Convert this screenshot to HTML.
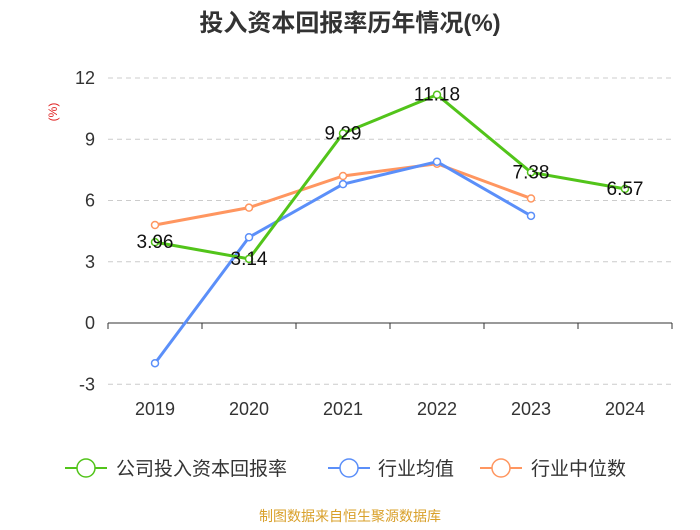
<!DOCTYPE html>
<html><head><meta charset="utf-8"><style>
body{margin:0;background:#fff;width:700px;height:525px;overflow:hidden;font-family:"Liberation Sans","Noto Sans CJK SC",sans-serif;}
</style></head><body>
<svg id="c" width="700" height="525" xmlns="http://www.w3.org/2000/svg">
<text x="350" y="31" text-anchor="middle" font-size="24" font-weight="bold" fill="#333">投入资本回报率历年情况(%)</text>
<text x="57" y="112" text-anchor="middle" font-size="12" fill="#e02020" transform="rotate(-90 57 112)">(%)</text>
<g id="grid"></g><g id="series"></g>
<g font-size="19" fill="#333">
<g><line x1="65" y1="468" x2="107" y2="468" stroke="#52c41a" stroke-width="2"/><circle cx="86" cy="468" r="9" fill="#fff" stroke="#52c41a" stroke-width="1.5"/><text x="116" y="475">公司投入资本回报率</text></g>
<g><line x1="328" y1="468" x2="370" y2="468" stroke="#5b8ff9" stroke-width="2"/><circle cx="349" cy="468" r="9" fill="#fff" stroke="#5b8ff9" stroke-width="1.5"/><text x="378" y="475">行业均值</text></g>
<g><line x1="480" y1="468" x2="522" y2="468" stroke="#ff9660" stroke-width="2"/><circle cx="501" cy="468" r="9" fill="#fff" stroke="#ff9660" stroke-width="1.5"/><text x="531" y="475">行业中位数</text></g>
</g>
<text x="350" y="521" text-anchor="middle" font-size="14" fill="#d9a02a">制图数据来自恒生聚源数据库</text>
</svg>
<script>
const categories=["2019","2020","2021","2022","2023","2024"];
const companyVals=[3.96,3.14,9.29,11.18,7.38,6.57];
const avgVals=[-1.97,4.2,6.8,7.9,5.25,null];
const medianVals=[4.8,5.65,7.2,7.8,6.1,null];
const yTicks=[-3,0,3,6,9,12];
const NS="http://www.w3.org/2000/svg";
const X=i=>155+i*94, Y=v=>323-v*(245/12);
function mk(t,a,p){const e=document.createElementNS(NS,t);for(const k in a)e.setAttribute(k,a[k]);p.appendChild(e);return e;}
const g=document.getElementById('grid'), s=document.getElementById('series');
yTicks.forEach(v=>{
 if(v!==0){const l=mk('line',{x1:108,x2:672,y1:Y(v),y2:Y(v),stroke:'#ccc','stroke-dasharray':'5,4'},g);
 
 }
 const t=mk('text',{x:95,y:Y(v)+6,'text-anchor':'end','font-size':18,fill:'#333'},g);t.textContent=v;
 
 
});
const ax=mk('line',{x1:108,x2:672,y1:Y(0),y2:Y(0),stroke:'#333','stroke-width':1},g);


categories.forEach((c,i)=>{
 const tk=mk('line',{x1:X(i)+47,x2:X(i)+47,y1:Y(0),y2:Y(0)+6,stroke:'#333'},g);
 
 
 const t=mk('text',{x:X(i),y:415,'text-anchor':'middle','font-size':18,fill:'#333'},g);t.textContent=c;
 
 
});
const tk0=mk('line',{x1:108,x2:108,y1:Y(0),y2:Y(0)+6,stroke:'#333'},g);


function draw(vals,color,name,labels){
 const pts=vals.map((v,i)=>v==null?null:[X(i),Y(v)]).filter(p=>p);
 const pl=mk('polyline',{points:pts.map(p=>p.join(',')).join(' '),fill:'none',stroke:color,'stroke-width':3},s);
 
 
 vals.forEach((v,i)=>{if(v==null)return;
  const c=mk('circle',{cx:X(i),cy:Y(v),r:3.5,fill:'#fff',stroke:color,'stroke-width':1.5},s);
  
  
  if(labels){const t=mk('text',{x:X(i),y:Y(v)+6,'text-anchor':'middle','font-size':19,fill:'#111'},s);t.textContent=v.toFixed(2);
  
  }
 });
}
draw(medianVals,'#ff9660','industry-median',false);
draw(avgVals,'#5b8ff9','industry-avg',false);
draw(companyVals,'#52c41a','company',true);
</script>
</body></html>
